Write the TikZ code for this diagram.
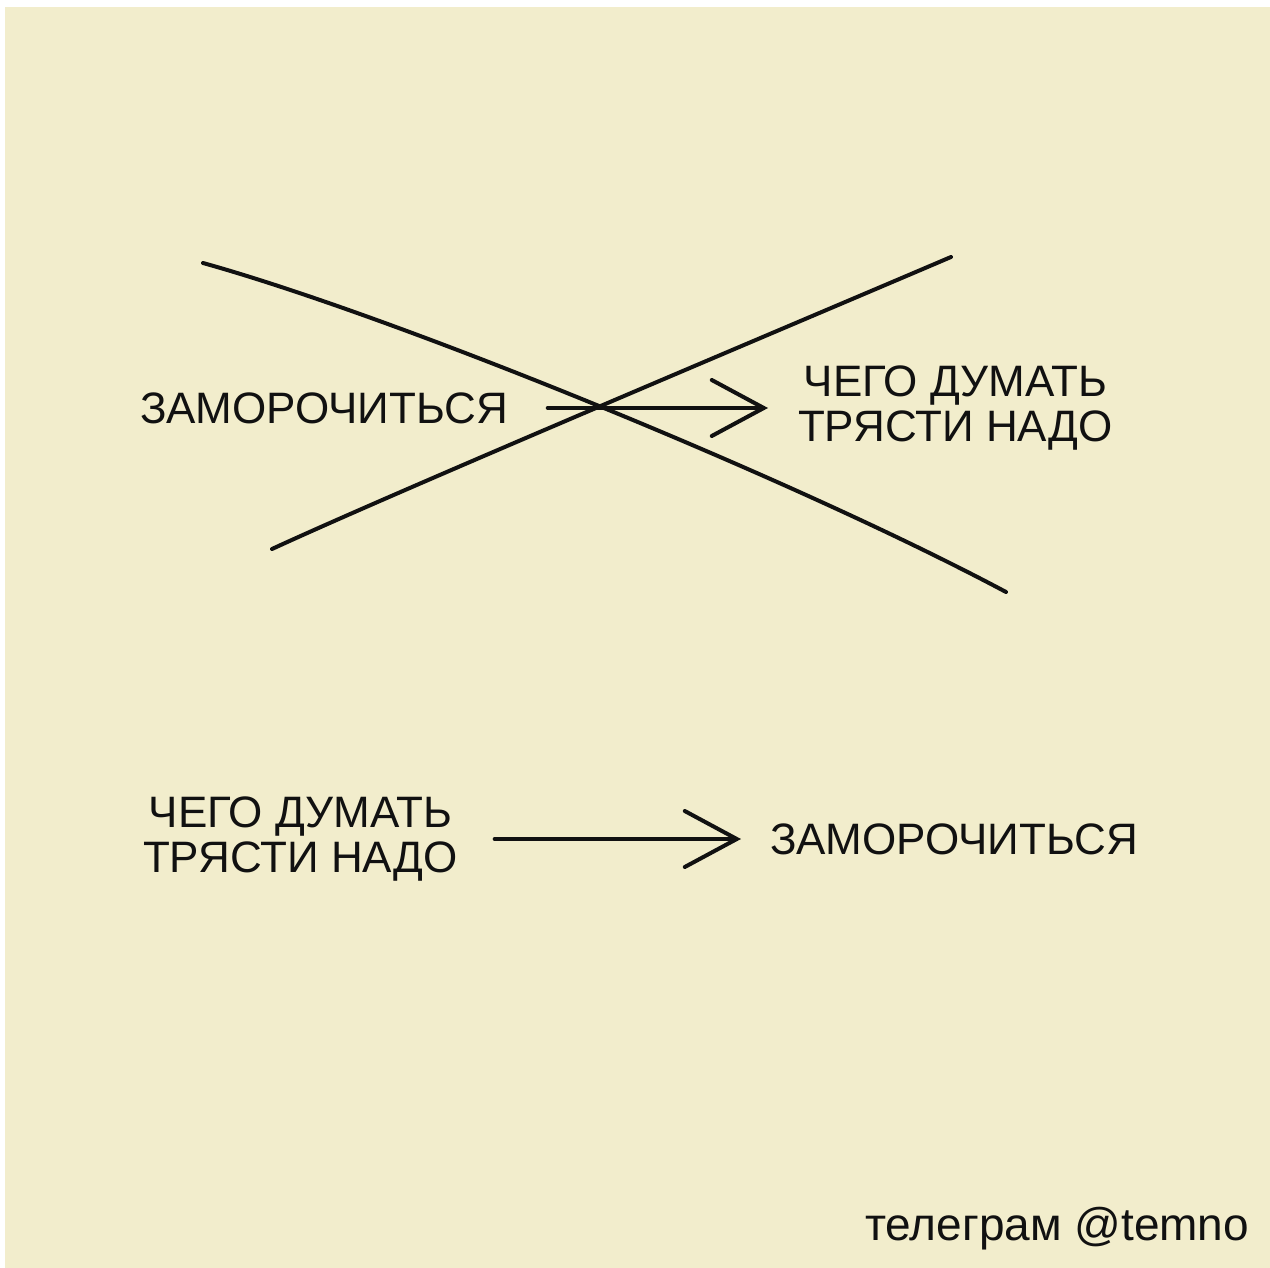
\documentclass[tikz,border=0pt]{standalone}
\usepackage{fontspec}
\setmainfont{Liberation Sans}
\usepackage{xcolor}
\usetikzlibrary{positioning, arrows.meta}

\definecolor{paper}{HTML}{F2EDCC}
\definecolor{ink}{HTML}{111111}

\begin{document}
\begin{tikzpicture}[
    x=1pt, y=-1pt,
    word/.style={inner sep=0pt, outer sep=0pt, align=center, text=ink, font=\fontsize{44}{45}\selectfont},
    note/.style={inner sep=0pt, text=ink, font=\fontsize{46}{48}\selectfont},
    stroke/.style={draw=ink, line width=4pt, line cap=round},
    arrow/.style={stroke, -{Straight Barb[length=52pt, width=56pt, line cap=round]}}
]
\useasboundingbox (0,0) rectangle (1270,1268);
\fill[white] (0,0) rectangle (1270,1268);
\fill[paper] (5,7) rectangle (1270,1268);

% upper row
\node[word, anchor=west] (zamTop) at (140,408) {ЗАМОРОЧИТЬСЯ};
\node[word, anchor=west] (chegoTop) at (798,408) {ЧЕГО ДУМАТЬ\\ТРЯСТИ НАДО};

\draw[arrow, shorten <=40pt, shorten >=30pt] (zamTop) -- (chegoTop);

% crossed out
\coordinate (xa) at (203,263);
\coordinate (xb) at (1006,592);
\coordinate (xc) at (272,549);
\coordinate (xd) at (951,257);
\draw[stroke] (xa) .. controls (400,318) and (800,482) .. (xb);
\draw[stroke] (xc) .. controls (400,490) and (780,330) .. (xd);

% lower row
\node[word, anchor=west] (chegoBot) at (143,839) {ЧЕГО ДУМАТЬ\\ТРЯСТИ НАДО};
\node[word, anchor=west] (zamBot) at (770,839) {ЗАМОРОЧИТЬСЯ};

\draw[arrow, shorten <=37pt, shorten >=29pt] (chegoBot) -- (zamBot);

\node[note, anchor=base west] (tg) at (865,1240) {телеграм @temno};
\end{tikzpicture}
\end{document}
